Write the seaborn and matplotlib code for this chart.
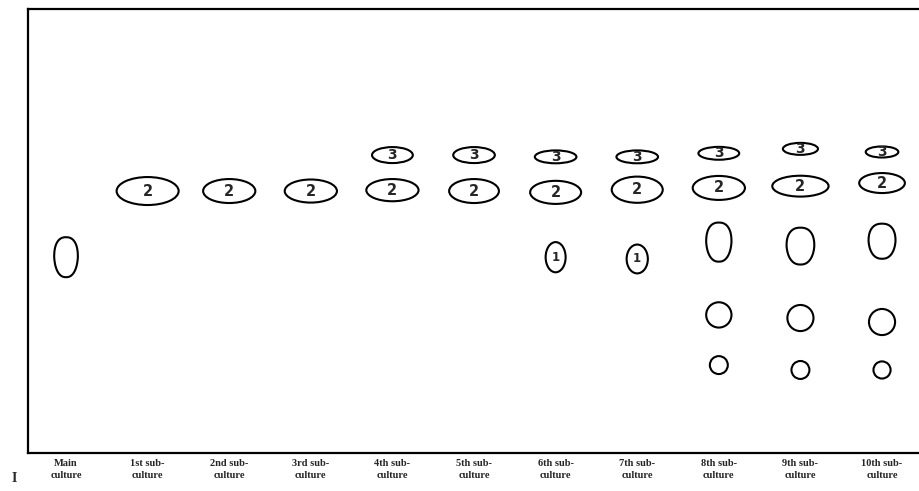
import numpy as np
import pandas as pd
import matplotlib
matplotlib.use("Agg")
import matplotlib.pyplot as plt
from matplotlib.patches import Ellipse, Polygon
import seaborn as sns

# ── data ─────────────────────────────────────────────────
lanes = ["Main\nculture", "1st sub-\nculture", "2nd sub-\nculture", "3rd sub-\nculture",
         "4th sub-\nculture", "5th sub-\nculture", "6th sub-\nculture", "7th sub-\nculture",
         "8th sub-\nculture", "9th sub-\nculture", "10th sub-\nculture"]

# spot "2" (lanes 1-10)
spot2_lane = [1, 2, 3, 4, 5, 6, 7, 8, 9, 10]
spot2_rf = [0.590, 0.590, 0.590, 0.592, 0.590, 0.587, 0.593, 0.597, 0.601, 0.608]
spot2_w = [0.76, 0.64, 0.64, 0.64, 0.61, 0.625, 0.625, 0.64, 0.69, 0.56]
spot2_h = [0.063, 0.054, 0.052, 0.050, 0.054, 0.052, 0.059, 0.054, 0.047, 0.045]

# spot "3" (lanes 4-10)
spot3_lane = [4, 5, 6, 7, 8, 9, 10]
spot3_rf = [0.671, 0.671, 0.667, 0.667, 0.675, 0.685, 0.678]
spot3_w = [0.50, 0.51, 0.51, 0.51, 0.50, 0.43, 0.40]
spot3_h = [0.036, 0.036, 0.029, 0.029, 0.029, 0.027, 0.025]

# spot "1" (lanes 6-7)
spot1_lane = [6, 7]
spot1_rf = [0.441, 0.437]
spot1_w = [0.245, 0.26]
spot1_h = [0.068, 0.065]

# unlabelled irregular spot
blob_lane = [0, 8, 9, 10]
blob_rf = [0.441, 0.475, 0.466, 0.477]
blob_w = [0.29, 0.31, 0.34, 0.33]
blob_h = [0.090, 0.088, 0.083, 0.079]

# round spots lower on the plate
big_lane = [8, 9, 10]
big_rf = [0.311, 0.304, 0.295]
big_d = [0.31, 0.32, 0.32]

small_lane = [8, 9, 10]
small_rf = [0.198, 0.187, 0.187]
small_d = [0.22, 0.22, 0.21]

# ── figure ───────────────────────────────────────────────
sns.set_style("white")
plt.rcParams["font.family"] = ["DejaVu Sans"]

fig = plt.figure(figsize=(9.19, 4.91), dpi=100)
ax = fig.add_axes([28 / 919, 38 / 491, 891 / 919, 444 / 491])
ax.set_xlim(-0.466, 10.453)
ax.set_ylim(0, 1)

# pixel size of one lane unit and one rf unit (keeps circles round)
lane_px = 81.6
rf_px = 444.0


def blob(x, y, w, h, n=2.4):
    """Rounded, slightly egg-shaped outline for the unlabelled spot."""
    t = np.linspace(0, 2 * np.pi, 200, endpoint=False)
    c, s = np.cos(t), np.sin(t)
    xs = w / 2 * np.sign(c) * np.abs(c) ** (2 / n)
    ys = h / 2 * np.sign(s) * np.abs(s) ** (2 / n)
    xs = xs * (1 - 0.12 * (ys < 0) * np.abs(ys) / (h / 2))  # taper bottom
    ax.add_patch(Polygon(np.column_stack([x + xs, y + ys]), closed=True,
                         fill=False, edgecolor="black", lw=1.5))


spots = pd.DataFrame({
    "lane": spot2_lane + spot3_lane + spot1_lane,
    "rf": spot2_rf + spot3_rf + spot1_rf,
    "w": spot2_w + spot3_w + spot1_w,
    "h": spot2_h + spot3_h + spot1_h,
    "label": ["2"] * len(spot2_lane) + ["3"] * len(spot3_lane) + ["1"] * len(spot1_lane),
})

fsize = {"2": 10.5, "3": 10, "1": 8.5}
for _, r in spots.iterrows():
    ax.add_patch(Ellipse((r["lane"], r["rf"]), r["w"], r["h"], fill=False,
                         edgecolor="black", lw=1.5))
    ax.text(r["lane"], r["rf"], r["label"], ha="center", va="center",
            fontsize=fsize[r["label"]], fontweight="bold")

for x, y, w, h in zip(blob_lane, blob_rf, blob_w, blob_h):
    blob(x, y, w, h)

for x, y, d in zip(big_lane + small_lane, big_rf + small_rf, big_d + small_d):
    ax.add_patch(Ellipse((x, y), d, d * lane_px / rf_px, fill=False,
                         edgecolor="black", lw=1.5))

ax.set_xticks(range(len(lanes)))
ax.set_xticklabels(lanes, fontsize=7.5, family="Liberation Serif",
                   fontweight="bold", linespacing=1.55)
ax.tick_params(axis="x", length=0, pad=4)
ax.set_yticks([])

for side in ["top", "left", "bottom"]:
    ax.spines[side].set_linewidth(1.6)
    ax.spines[side].set_color("black")
ax.spines["right"].set_visible(False)

fig.text(14 / 919, 1 - 478 / 491, "I", fontsize=10, fontweight="bold",
         family="Liberation Serif", ha="center", va="center")

fig.savefig("out.png", dpi=100)
